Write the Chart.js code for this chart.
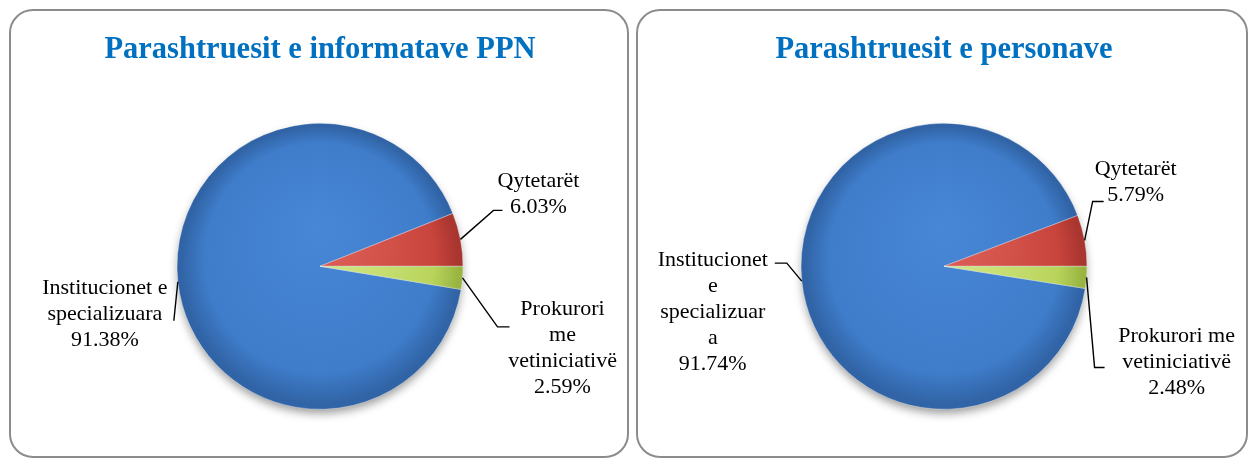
<!DOCTYPE html>
<html lang="sq">
<head>
    <meta charset="UTF-8">
    <title>Parashtruesit e informatave PPN / Parashtruesit e personave</title>
    <style>
        body {
            margin: 0;
            background: #fff;
            width: 1249px;
            height: 458px;
            position: relative;
            overflow: hidden;
        }

        .panel {
            position: absolute;
            top: 9px;
            height: 449px;
            box-sizing: border-box;
            border: 2px solid #8c8c8c;
            border-radius: 24px;
        }

        #panel-left { left: 9px; width: 620px; }
        #panel-right { left: 636px; width: 612px; }

        .panel canvas {
            position: absolute;
            left: 0;
            top: 0;
        }
    </style>
</head>

<body>
    <div class="panel" id="panel-left"><canvas id="chart-left" width="616" height="445"></canvas></div>
    <div class="panel" id="panel-right"><canvas id="chart-right" width="608" height="445"></canvas></div>

    <script src="https://cdn.jsdelivr.net/npm/chart.js"></script>
    <script>
        // data
        const titlePPN = 'Parashtruesit e informatave PPN';
        const titlePersonave = 'Parashtruesit e personave';

        const labelsPPN = [['Institucionet e', 'specializuara'], ['Qytetarët'], ['Prokurori', 'me', 'vetiniciativë']];
        const valuesPPN = [91.38, 6.03, 2.59];

        const labelsPersonave = [['Institucionet', 'e', 'specializuar', 'a'], ['Qytetarët'], ['Prokurori me', 'vetiniciativë']];
        const valuesPersonave = [91.74, 5.79, 2.48];

        // slice colours: [light, base, dark]
        const sliceColors = [
            ['#4887d6', '#3f7dcb', '#3164a6'],
            ['#e0645c', '#c8443c', '#a8352f'],
            ['#d8ec90', '#b9d45b', '#9ab442']
        ];

        const pieRadius = 143;

        // leader line / label placement, relative to the slice edge point
        const leadersPPN = [
            { elbow: [-4, 39], tail: 0, text: [-73, 32] },
            { elbow: [33, -29], tail: 9, text: [78, -45] },
            { elbow: [35, 49], tail: 12, text: [100, 70] }
        ];
        const leadersPersonave = [
            { elbow: [-15, -18], tail: -12, text: [-89, 31] },
            { elbow: [8, -39], tail: 11, text: [51, -58] },
            { elbow: [8, 90], tail: 10, text: [90, 85] }
        ];

        function sliceGradient(context) {
            const colors = sliceColors[context.dataIndex];
            const chart = context.chart;
            const area = chart.chartArea;
            if (!area) return colors[1];
            const cx = (area.left + area.right) / 2;
            const cy = (area.top + area.bottom) / 2;
            const r = pieRadius;
            const g = chart.ctx.createRadialGradient(cx, cy - r * 0.3, 0, cx, cy, r);
            g.addColorStop(0, colors[0]);
            g.addColorStop(0.8, colors[1]);
            g.addColorStop(0.97, colors[2]);
            g.addColorStop(1, colors[2]);
            return g;
        }

        // soft shadow under the pie
        const pieShadow = {
            id: 'pieShadow',
            beforeDatasetsDraw(chart) {
                const arc = chart.getDatasetMeta(0).data[0];
                if (!arc) return;
                const ctx = chart.ctx;
                ctx.save();
                ctx.shadowColor = 'rgba(0,0,0,0.4)';
                ctx.shadowBlur = 10;
                ctx.shadowOffsetY = 5;
                ctx.fillStyle = '#3f7dcb';
                ctx.beginPath();
                ctx.arc(arc.x, arc.y, arc.outerRadius - 1, 0, Math.PI * 2);
                ctx.fill();
                ctx.restore();
            }
        };

        // category + percent labels with leader lines
        const sliceLabels = {
            id: 'sliceLabels',
            afterDatasetsDraw(chart, args, opts) {
                const ctx = chart.ctx;
                const meta = chart.getDatasetMeta(0);
                const values = chart.data.datasets[0].data;
                ctx.save();
                ctx.font = '22px "Liberation Serif", "Times New Roman", serif';
                ctx.fillStyle = '#000';
                ctx.strokeStyle = '#000';
                ctx.lineWidth = 1.4;
                ctx.textAlign = 'center';
                ctx.textBaseline = 'middle';
                meta.data.forEach((arc, i) => {
                    const p = arc.getProps(['x', 'y', 'startAngle', 'endAngle', 'outerRadius'], true);
                    const mid = (p.startAngle + p.endAngle) / 2;
                    const ex = p.x + Math.cos(mid) * p.outerRadius;
                    const ey = p.y + Math.sin(mid) * p.outerRadius;
                    const ld = opts.leaders[i];
                    const bx = ex + ld.elbow[0], by = ey + ld.elbow[1];
                    ctx.beginPath();
                    ctx.moveTo(ex, ey);
                    ctx.lineTo(bx, by);
                    ctx.lineTo(bx + ld.tail, by);
                    ctx.stroke();
                    const lines = chart.data.labels[i].concat([values[i].toFixed(2) + '%']);
                    const tx = ex + ld.text[0], ty = ey + ld.text[1];
                    const lh = 26;
                    lines.forEach((line, k) => {
                        ctx.fillText(line, tx, ty + (k - (lines.length - 1) / 2) * lh);
                    });
                });
                ctx.restore();
            }
        };

        function makePie(canvasId, title, labels, values, leaders, pad) {
            return new Chart(document.getElementById(canvasId), {
                type: 'pie',
                data: {
                    labels: labels,
                    datasets: [{
                        data: values,
                        backgroundColor: sliceGradient,
                        borderColor: 'rgba(255,255,255,0.35)',
                        borderWidth: 1,
                        hoverOffset: 0
                    }]
                },
                options: {
                    responsive: false,
                    animation: false,
                    radius: pieRadius,
                    // start so that the third slice begins at 3 o'clock
                    rotation: 90 + values[2] * 3.6,
                    layout: { padding: pad },
                    plugins: {
                        legend: { display: false },
                        tooltip: { enabled: false },
                        title: {
                            display: true,
                            text: title,
                            color: '#0070c0',
                            font: { family: '"Liberation Serif", "Times New Roman", serif', size: 30.5, weight: 'bold', lineHeight: 1.2 },
                            padding: { top: 21, bottom: 55 }
                        },
                        sliceLabels: { leaders: leaders }
                    }
                },
                plugins: [pieShadow, sliceLabels]
            });
        }

        makePie('chart-left', titlePPN, labelsPPN, valuesPPN, leadersPPN,
            { left: 2, right: 0, top: 0, bottom: 47 });
        makePie('chart-right', titlePersonave, labelsPersonave, valuesPersonave, leadersPersonave,
            { left: 4, right: 0, top: 0, bottom: 47 });
    </script>
</body>

</html>
